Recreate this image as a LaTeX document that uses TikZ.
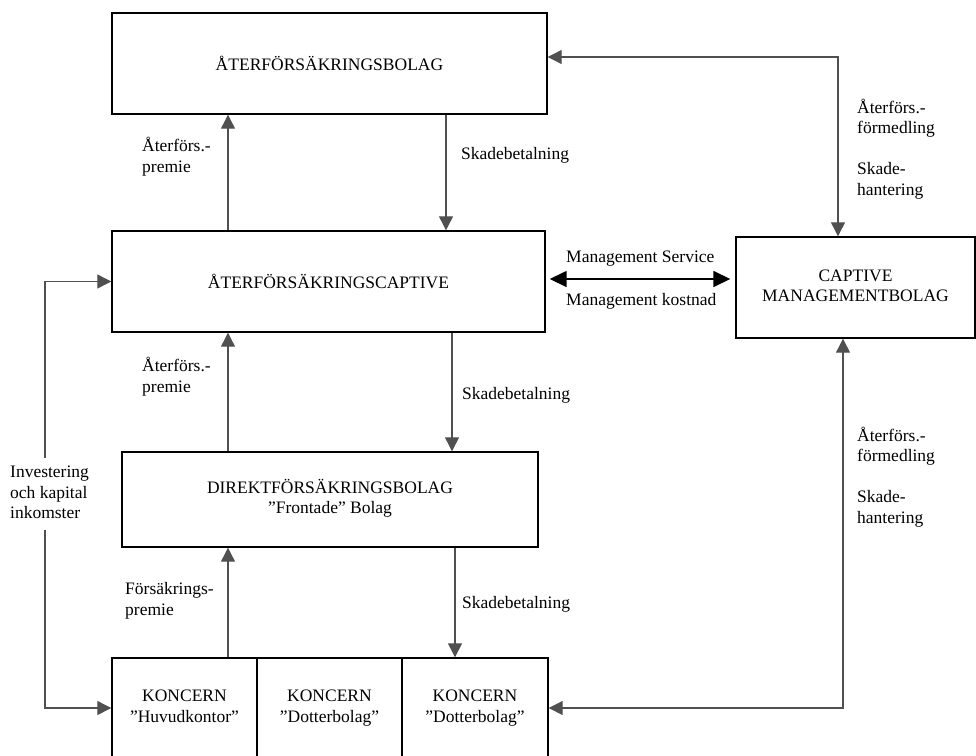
\documentclass[tikz,border=0pt]{standalone}
\usepackage{fontspec}
\setmainfont{Liberation Serif}
\usepackage{tikz}
\usetikzlibrary{arrows.meta, positioning, calc}
\definecolor{flowgray}{RGB}{80,80,80}

\begin{document}
\begin{tikzpicture}[x=1pt,y=-1pt,
	every node/.style={font=\fontsize{17.5}{20.5}\selectfont},
	box/.style={draw=black,line width=1.4pt,inner sep=0pt,align=center},
	flow/.style={draw=flowgray,line width=1.2pt,->,>={Triangle[length=14pt,width=14pt]}},
	mgmtflow/.style={draw=black,line width=1.6pt,<->,>={Triangle[length=17pt,width=16pt]},shorten <=4pt,shorten >=5pt},
	lbl/.style={anchor=west,inner sep=0pt}]
	\useasboundingbox (0,0) rectangle (976,755);
	
	\node[box,minimum width=435,minimum height=101] (bolag) at (329.5,63.5){ÅTERFÖRSÄKRINGSBOLAG};
	\node[box,minimum width=433,minimum height=101] (captive) at (328.5,281.5){ÅTERFÖRSÄKRINGSCAPTIVE};
	\node[box,minimum width=239,minimum height=101] (mgmt) at (855.5,287.5){\begin{tabular}{c}CAPTIVE\\MANAGEMENTBOLAG\end{tabular}};
	\node[box,minimum width=416,minimum height=95] (direkt) at (330,499.5){\begin{tabular}{c}DIREKTFÖRSÄKRINGSBOLAG\\”Frontade” Bolag\end{tabular}};
	
	\node[box,minimum width=145,minimum height=100] (kon1) at (184.5,708){\begin{tabular}{c}KONCERN\\”Huvudkontor”\end{tabular}};
	\node[box,minimum width=145,minimum height=100] (kon2) at (329.5,708){\begin{tabular}{c}KONCERN\\”Dotterbolag”\end{tabular}};
	\node[box,minimum width=146,minimum height=100] (kon3) at (475,708){\begin{tabular}{c}KONCERN\\”Dotterbolag”\end{tabular}};
	
	\coordinate (up) at (228,0);
	\coordinate (skA) at (446,0);
	\coordinate (skB) at (452,0);
	\coordinate (skC) at (455,0);
	\coordinate (ur) at (838,57);
	\coordinate (lr) at (843,708);
	\coordinate (ms) at (0,279);
	\coordinate (col) at (45,0);
	
	\draw[flow] (captive.north -| up) -- (bolag.south -| up);
	\draw[flow] (bolag.south -| skA) -- (captive.north -| skA);
	\draw[flow] (direkt.north -| up) -- (captive.south -| up);
	\draw[flow] (captive.south -| skB) -- (direkt.north -| skB);
	\draw[flow] (kon1.north -| up) -- (direkt.south -| up);
	\draw[flow] (direkt.south -| skC) -- (kon3.north -| skC);
	
	\draw[flow,<->] (bolag.east |- ur) -- (ur) -- (ur |- mgmt.north);
	\draw[flow,<->] (kon3.east |- lr) -- (lr) -- (lr |- mgmt.south);
	\draw[mgmtflow] (captive.east |- ms) -- (mgmt.west |- ms);
	
	\node[lbl] (prem1) at (142,158){\begin{tabular}{@{}l@{}}Återförs.-\\premie\end{tabular}};
	\node[lbl] (skade1) at (461,155){Skadebetalning};
	\node[lbl] (prem2) at (142,378){\begin{tabular}{@{}l@{}}Återförs.-\\premie\end{tabular}};
	\node[lbl] (skade2) at (462,395){Skadebetalning};
	\node[lbl] (prem3) at (125,601){\begin{tabular}{@{}l@{}}Försäkrings-\\premie\end{tabular}};
	\node[lbl] (skade3) at (462,604){Skadebetalning};
	
	\node[lbl] (service) at (566,259){Management Service};
	\node[lbl] (kostnad) at (566,301){Management kostnad};
	
	\node[lbl] (urlbl) at (857,150){\begin{tabular}{@{}l@{}}Återförs.-\\förmedling\\ \\Skade-\\hantering\end{tabular}};
	\node[lbl] (lrlbl) at (857,478){\begin{tabular}{@{}l@{}}Återförs.-\\förmedling\\ \\Skade-\\hantering\end{tabular}};
	
	\node[lbl,inner sep=5pt] (inv) at (5,494){\begin{tabular}{@{}l@{}}Investering\\och kapital\\inkomster\end{tabular}};
	\draw[flow] (inv.north -| col) |- (captive.west);
	\draw[flow] (inv.south -| col) |- (kon1.west);
\end{tikzpicture}
\end{document}
